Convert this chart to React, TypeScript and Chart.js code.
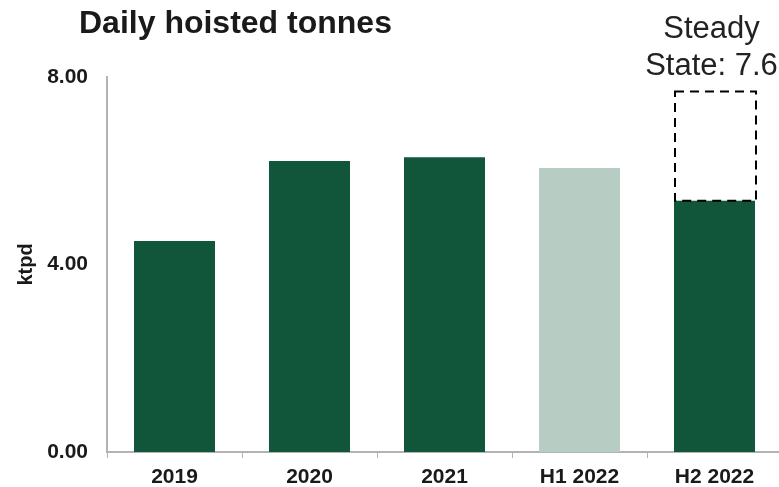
import React, { useEffect, useRef } from "react";
import { Chart, registerables } from "chart.js";

Chart.register(...registerables);

const categories = ["2019", "2020", "2021", "H1 2022", "H2 2022"];
const hoisted = [4.5, 6.21, 6.29, 6.06, 5.36];
const barColors = ["#11563a", "#11563a", "#11563a", "#b7cdc4", "#11563a"];
const steadyStateTarget = [null, null, null, null, 7.69];
const yTicks = [0, 4, 8];
const titleText = "Daily hoisted tonnes";
const steadyLabel = ["Steady", "State: 7.6"];

const FONT = "'Liberation Sans', Arial, sans-serif";

const overlayPlugin = {
  id: "overlay",
  afterDatasetsDraw(chart: any) {
    const ctx = chart.ctx;
    const meta = chart.getDatasetMeta(1);
    const base = chart.getDatasetMeta(0);
    ctx.save();
    meta.data.forEach((el: any, i: number) => {
      const v = steadyStateTarget[i];
      if (v == null) return;
      const bar = base.data[i];
      const half = bar.width / 2;
      const yTop = chart.scales.y.getPixelForValue(v);
      const yBot = chart.scales.y.getPixelForValue(hoisted[i]);
      ctx.strokeStyle = "#000";
      ctx.lineWidth = 2;
      ctx.setLineDash([9, 6]);
      ctx.strokeRect(bar.x - half + 1, yTop, half * 2, yBot - yTop);
      ctx.setLineDash([]);
      ctx.fillStyle = "#222";
      ctx.font = `31px ${FONT}`;
      ctx.textAlign = "center";
      ctx.textBaseline = "alphabetic";
      ctx.fillText(steadyLabel[0], bar.x - 3, yTop - 54);
      ctx.fillText(steadyLabel[1], bar.x - 3, yTop - 17);
    });
    ctx.fillStyle = "#1a1a1a";
    ctx.font = `bold 32px ${FONT}`;
    ctx.textAlign = "left";
    ctx.textBaseline = "alphabetic";
    ctx.fillText(titleText, 79, 33);
    ctx.restore();
  },
};

export default function App() {
  const ref = useRef<HTMLCanvasElement>(null);
  useEffect(() => {
    const chart = new Chart(ref.current!, {
      type: "bar",
      data: {
        labels: categories,
        datasets: [
          {
            data: hoisted,
            backgroundColor: barColors,
            barPercentage: 0.6,
            categoryPercentage: 1,
            grouped: false,
          } as any,
          {
            data: steadyStateTarget,
            backgroundColor: "rgba(0,0,0,0)",
            barPercentage: 0.6,
            categoryPercentage: 1,
            grouped: false,
          } as any,
        ],
      },
      options: {
        animation: false,
        responsive: false,
        maintainAspectRatio: false,
        layout: { padding: { top: 77, left: 0, right: 0, bottom: 0 } },
        plugins: {
          legend: { display: false },
          tooltip: { enabled: false },
          title: { display: false },
        },
        scales: {
          x: {
            grid: {
              display: true,
              drawOnChartArea: false,
              drawTicks: true,
              tickLength: 6,
              color: "#b3b3b3",
              offset: true,
            },
            border: { display: true, color: "#b3b3b3", width: 2 },
            ticks: {
              color: "#1a1a1a",
              font: { family: FONT, size: 21, weight: "bold" },
              padding: 7,
              maxRotation: 0,
            },
            afterFit: (s: any) => {
              s.height = 35;
            },
          },
          y: {
            min: 0,
            max: 8,
            afterBuildTicks: (s: any) => {
              s.ticks = yTicks.map((v) => ({ value: v }));
            },
            grid: { display: false },
            border: { display: true, color: "#b3b3b3", width: 2 },
            ticks: {
              color: "#1a1a1a",
              font: { family: FONT, size: 21, weight: "bold" },
              padding: 11,
              callback: (v: any) => Number(v).toFixed(2),
            },
            title: {
              display: true,
              text: "ktpd",
              color: "#1a1a1a",
              font: { family: FONT, size: 20, weight: "bold" },
              padding: { top: 14, bottom: 0 },
            },
            afterFit: (s: any) => {
              s.width = 107;
            },
          },
        },
      },
      plugins: [overlayPlugin],
    });
    return () => chart.destroy();
  }, []);
  return (
    <div
      style={{
        position: "fixed",
        left: 0,
        top: 0,
        width: 779,
        height: 487,
        overflow: "hidden",
        background: "#fff",
      }}
    >
      <canvas ref={ref} width={782} height={487} style={{ width: 782, height: 487, display: "block" }} />
    </div>
  );
}
